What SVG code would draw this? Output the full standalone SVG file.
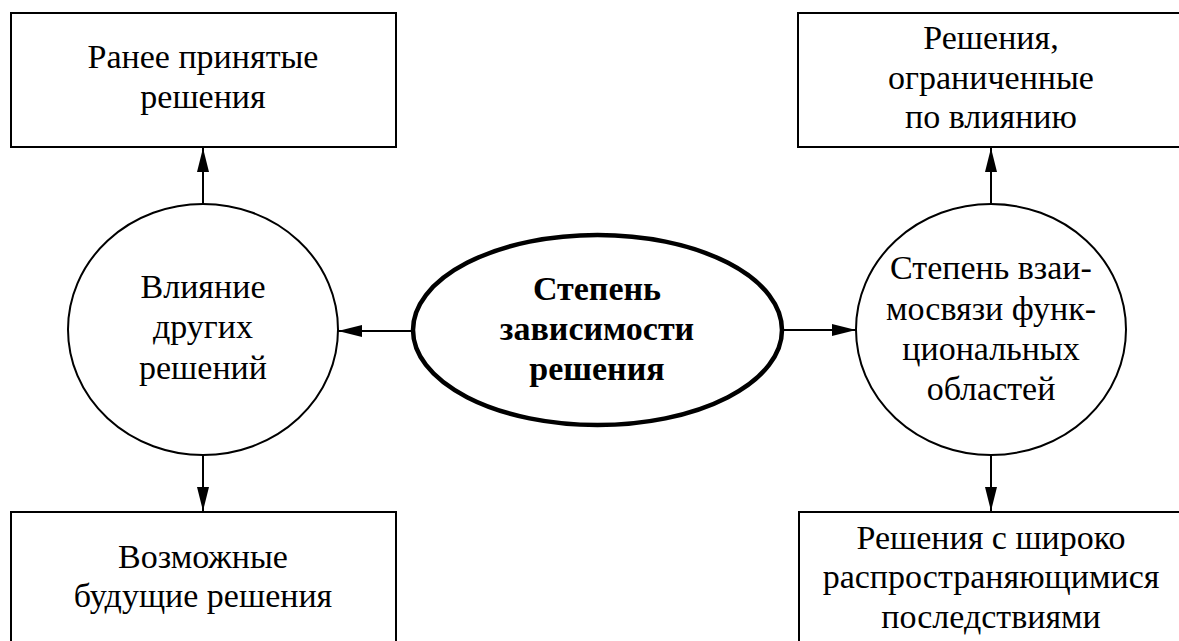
<svg xmlns="http://www.w3.org/2000/svg" width="1179" height="641" viewBox="0 0 1179 641">
<style>
.box{fill:#fff;stroke:#000;stroke-width:2}
.circ{fill:#fff;stroke:#000;stroke-width:2}
.main{fill:#fff;stroke:#000;stroke-width:4.5}
.con{stroke:#000;stroke-width:2;fill:none;marker-end:url(#ah)}
</style>
<defs>
<marker id="ah" viewBox="0 0 24 12" refX="24" refY="6" markerWidth="24" markerHeight="12" markerUnits="userSpaceOnUse" orient="auto">
<path d="M0,0 L24,6 L0,12 Z" fill="#000"/>
</marker>
</defs>
<rect width="1179" height="641" fill="#fff"/>
<g id="connectors">
<line class="con" x1="203" y1="204" x2="203" y2="148"/>
<line class="con" x1="203" y1="455" x2="203" y2="511"/>
<line class="con" x1="413" y1="331" x2="338" y2="331"/>
<line class="con" x1="782" y1="330" x2="856" y2="330"/>
<line class="con" x1="991" y1="204" x2="991" y2="148"/>
<line class="con" x1="991" y1="455" x2="991" y2="511"/>
</g>
<g font-family="Liberation Serif, serif" font-size="34" text-anchor="middle" fill="#000">
<g id="box-prev">
<rect class="box" x="11" y="13" width="385" height="134"/>
<text x="203" y="68">Ранее принятые</text>
<text x="203" y="108">решения</text>
</g>
<g id="box-future">
<rect class="box" x="11" y="512" width="385" height="140"/>
<text x="203" y="568">Возможные</text>
<text x="203" y="607">будущие решения</text>
</g>
<g id="box-limited">
<rect class="box" x="798" y="13" width="390" height="134"/>
<text x="991" y="49">Решения,</text>
<text x="991" y="89">ограниченные</text>
<text x="991" y="128">по влиянию</text>
</g>
<g id="box-wide">
<rect class="box" x="799" y="512" width="390" height="140"/>
<text x="991" y="549">Решения с широко</text>
<text x="991" y="588">распространяющимися</text>
<text x="991" y="628">последствиями</text>
</g>
<g id="circle-influence">
<ellipse class="circ" cx="203" cy="329.5" rx="135" ry="125.5"/>
<text x="203" y="298">Влияние</text>
<text x="203" y="338">других</text>
<text x="203" y="379">решений</text>
</g>
<g id="circle-functional">
<ellipse class="circ" cx="991" cy="329.5" rx="135" ry="125.5"/>
<text x="991" y="279">Степень взаи-</text>
<text x="991" y="320">мосвязи функ-</text>
<text x="991" y="360">циональных</text>
<text x="991" y="400">областей</text>
</g>
<g id="center">
<ellipse class="main" cx="597.5" cy="330" rx="184.5" ry="95"/>
<text font-weight="bold" x="597" y="300">Степень</text>
<text font-weight="bold" x="597" y="340">зависимости</text>
<text font-weight="bold" x="597" y="380">решения</text>
</g>
</g>
</svg>
